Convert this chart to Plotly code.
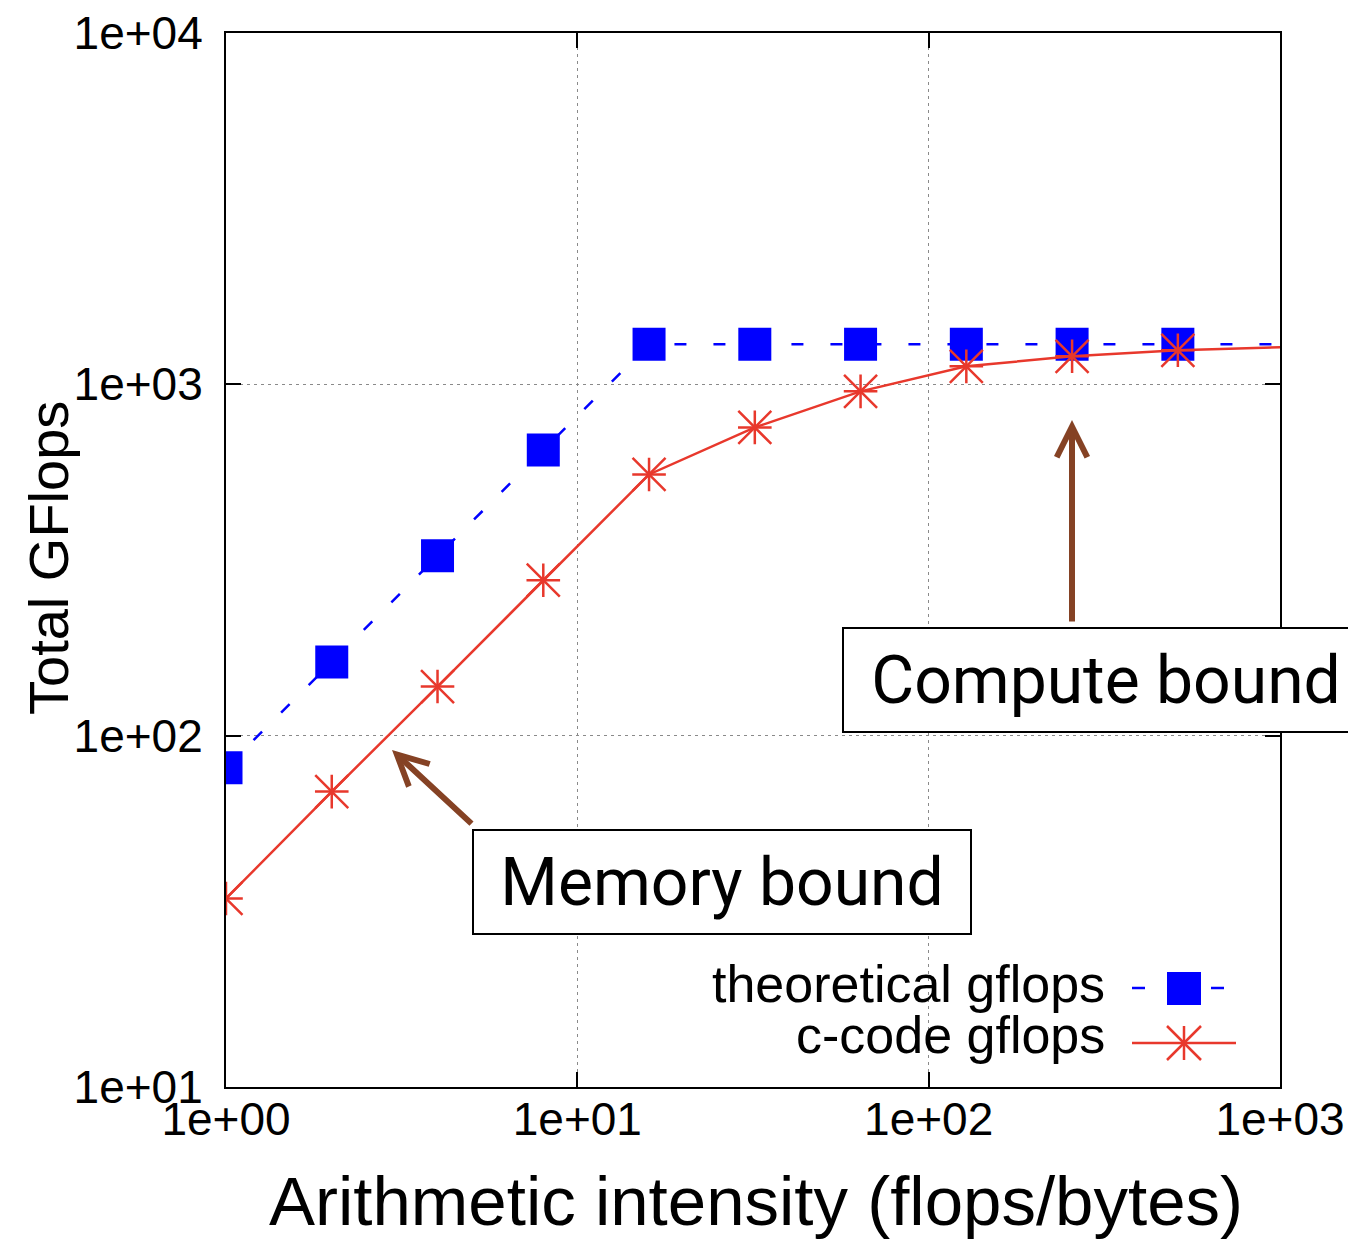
import plotly.graph_objects as go

# ---- data ----
intensity = [1, 2, 4, 8, 16, 32, 64, 128, 256, 512, 1024]
theoretical_gflops = [81, 162, 325, 650, 1300, 1300, 1300, 1300, 1300, 1300, 1300]
ccode_gflops = [34.4, 69.3, 138, 277, 554, 754, 955, 1125, 1202, 1250, 1276]
n_marked = 10  # points shown with markers (last one lies outside the axis range)

x_tickvals = [1, 10, 100, 1000]
x_ticktext = ["1e+00", "1e+01", "1e+02", "1e+03"]
y_tickvals = [10, 100, 1000, 10000]
y_ticktext = ["1e+01", "1e+02", "1e+03", "1e+04"]

series_names = ["theoretical gflops", "c-code gflops"]
x_title = "Arithmetic intensity (flops/bytes)"
y_title = "Total GFlops"
label_memory = "Memory bound"
label_compute = "Compute bound"

# ---- style ----
PAGE_OFF = 8                      # default body margin of the page
W, H = 1348, 1232
# plot area in screen pixels
SX0, SX1, SY0, SY1 = 226, 1280, 33, 1087
PW, PH = SX1 - SX0, SY1 - SY0
ML, MT = SX0 - PAGE_OFF, SY0 - PAGE_OFF
MR = W - (SX1 - PAGE_OFF)
MB = H - (SY1 - PAGE_OFF)

BLUE = "#0000FF"
RED = "#E8382C"
BROWN = "#854224"
SANS = "Liberation Sans, Arial, sans-serif"
ROBOTO = "Roboto, sans-serif"


def px(xp):
    return (xp - SX0) / PW


def py(yp):
    return (SY1 - yp) / PH


fig = go.Figure()

# theoretical: dashed line + square markers
fig.add_trace(go.Scatter(
    x=intensity, y=theoretical_gflops, mode="lines",
    line=dict(color=BLUE, width=2.5, dash="12px,27px"),
    showlegend=False, hoverinfo="skip"))
fig.add_trace(go.Scatter(
    x=intensity[:n_marked], y=theoretical_gflops[:n_marked], mode="markers",
    marker=dict(symbol="square", size=33, color=BLUE, line=dict(width=0)),
    name=series_names[0], showlegend=False))

# c-code: solid line + asterisk markers
fig.add_trace(go.Scatter(
    x=intensity, y=ccode_gflops, mode="lines",
    line=dict(color=RED, width=2.5),
    showlegend=False, hoverinfo="skip"))
fig.add_trace(go.Scatter(
    x=intensity[:n_marked], y=ccode_gflops[:n_marked], mode="markers",
    marker=dict(symbol="cross-thin-open", size=24, color=RED,
                line=dict(color=RED, width=2.5)),
    name=series_names[1], showlegend=False))
fig.add_trace(go.Scatter(
    x=intensity[:n_marked], y=ccode_gflops[:n_marked], mode="markers",
    marker=dict(symbol="x-thin-open", size=33, color=RED,
                line=dict(color=RED, width=2.5)),
    showlegend=False, hoverinfo="skip"))

axis_common = dict(
    type="log", showline=True, linecolor="black", linewidth=2, mirror="ticks",
    ticks="inside", ticklen=15, tickwidth=2, tickcolor="black",
    showgrid=True, gridcolor="#8a8a8a", gridwidth=1, griddash="3px,4px",
    zeroline=False, tickfont=dict(family=SANS, size=46, color="black"),
    ticklabeloverflow="allow", automargin=False,
)

fig.update_xaxes(range=[0, 3], tickvals=x_tickvals, ticktext=x_ticktext,
                 ticklabelstandoff=-9, **axis_common)
fig.update_yaxes(range=[1, 4], tickvals=y_tickvals, ticktext=y_ticktext,
                 ticklabelstandoff=12, **axis_common)

annotations = [
    # axis titles
    dict(text=x_title, xref="paper", yref="paper", x=px(755.5), y=py(1201.5),
         xanchor="center", yanchor="middle", showarrow=False,
         font=dict(family=SANS, size=69, color="black")),
    dict(text=y_title, xref="paper", yref="paper", x=px(48), y=py(558),
         xanchor="center", yanchor="middle", showarrow=False, textangle=-90,
         font=dict(family=SANS, size=56, color="black")),
    # boxed labels
    dict(text=label_memory, xref="paper", yref="paper", x=px(722), y=py(882),
         xanchor="center", yanchor="middle", showarrow=False,
         font=dict(family=ROBOTO, size=66, color="black"),
         bgcolor="white", bordercolor="black", borderwidth=2, borderpad=6,
         width=484, height=90),
    dict(text=label_compute, xref="paper", yref="paper", x=px(1106), y=py(680.5),
         xanchor="center", yanchor="middle", showarrow=False,
         font=dict(family=ROBOTO, size=66, color="black"),
         bgcolor="white", bordercolor="black", borderwidth=2, borderpad=6,
         width=512, height=90),
    # arrows
    dict(text="", xref="paper", yref="paper", x=px(392), y=py(750),
         ax=81, ay=75, showarrow=True, arrowcolor=BROWN, arrowwidth=6,
         arrowhead=5, arrowsize=1.0),
    dict(text="", xref="paper", yref="paper", x=px(1072), y=py(420),
         ax=0, ay=203, showarrow=True, arrowcolor=BROWN, arrowwidth=6,
         arrowhead=5, arrowsize=1.0),
    # legend text
    dict(text=series_names[0], xref="paper", yref="paper", x=px(1107), y=py(984),
         xanchor="right", yanchor="middle", showarrow=False,
         font=dict(family=SANS, size=52, color="black")),
    dict(text=series_names[1], xref="paper", yref="paper", x=px(1107), y=py(1035),
         xanchor="right", yanchor="middle", showarrow=False,
         font=dict(family=SANS, size=52, color="black")),
]


# legend samples (decoration, paper coordinates)
def seg(x0, y0, x1, y1, color, width=2.5):
    return dict(type="line", xref="paper", yref="paper",
                x0=px(x0), y0=py(y0), x1=px(x1), y1=py(y1),
                line=dict(color=color, width=width))


shapes = [
    seg(1132, 988, 1145, 988, BLUE),
    seg(1211, 988, 1224, 988, BLUE),
    dict(type="rect", xref="paper", yref="paper",
         x0=px(1167), y0=py(1005), x1=px(1201), y1=py(972),
         fillcolor=BLUE, line=dict(width=0)),
    seg(1132, 1043, 1236, 1043, RED),
    seg(1184, 1026, 1184, 1060, RED),
    seg(1167, 1026, 1201, 1060, RED),
    seg(1167, 1060, 1201, 1026, RED),
]

fig.update_layout(
    width=W, height=H,
    margin=dict(l=ML, r=MR, t=MT, b=MB),
    paper_bgcolor="white", plot_bgcolor="white",
    showlegend=False,
    annotations=annotations,
    shapes=shapes,
)

fig.write_html("out.html")
